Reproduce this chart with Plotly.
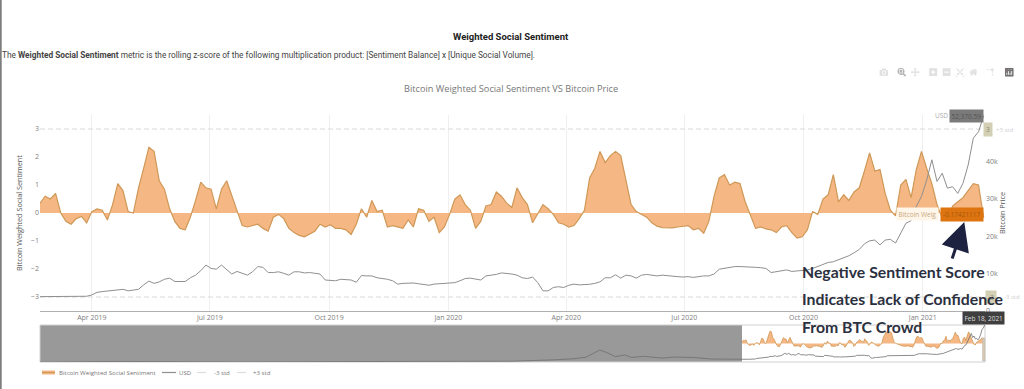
import pandas as pd
import plotly.graph_objects as go

start_date = "2019-02-20"
step_days = 4
sentiment = [0.35,0.6,0.5,0.7,0.0,-0.3,-0.4,-0.2,-0.12,-0.35,0.05,0.15,0.1,-0.25,0.3,1.05,0.8,0.05,0.0,0.9,
 1.6,2.35,2.2,1.15,0.85,0.15,-0.3,-0.55,-0.6,-0.15,0.45,1.1,0.9,0.85,0.15,0.85,1.15,0.6,0.1,-0.45,
 -0.5,-0.45,-0.4,-0.55,-0.65,-0.15,-0.05,-0.2,-0.55,-0.7,-0.8,-0.85,-0.75,-0.65,-0.4,-0.5,-0.42,-0.55,-0.55,-0.6,
 -0.77,-0.4,0.15,-0.15,0.45,0.05,0.1,-0.5,-0.45,-0.5,-0.55,-0.25,-0.5,0.15,0.1,-0.3,-0.15,-0.7,-0.5,-0.05,
 0.5,0.65,0.3,0.1,-0.55,-0.3,0.25,0.3,0.75,0.6,0.35,0.2,0.9,0.55,0.3,-0.35,0.0,0.3,0.15,-0.05,
 -0.35,-0.4,-0.5,-0.45,-0.2,0.1,1.25,1.6,2.2,1.8,2.05,2.2,2.05,1.2,0.3,0.05,-0.05,-0.15,-0.35,-0.47,
 -0.52,-0.52,-0.53,-0.5,-0.47,-0.45,-0.6,-0.55,-0.72,-0.3,0.6,1.25,1.37,1.0,1.1,1.05,0.4,-0.1,-0.55,-0.5,
 -0.57,-0.6,-0.7,-0.5,-0.45,-0.7,-0.9,-0.85,-0.6,0.05,-0.05,0.5,0.65,1.37,0.4,0.65,0.45,0.75,0.9,1.5,
 2.15,1.5,1.55,0.7,0.1,-0.1,1.0,1.2,0.55,1.55,2.2,1.6,1.05,0.3,-0.18,-0.25,0.25,0.4,0.55,0.8,
 1.05,1.0,-0.17]
usd_k = [3.85,3.85,3.8,3.8,3.8,3.85,3.9,3.9,3.95,3.95,4.3,5.0,5.2,5.3,5.5,5.6,5.8,5.4,5.7,5.8,
 7.0,8.0,7.4,7.8,8.5,8.8,7.9,7.9,7.9,8.9,9.6,10.8,12.3,11.4,11.2,12.3,11.2,9.9,10.6,10.1,
 9.6,10.5,11.9,11.7,10.3,10.3,10.5,10.1,9.6,10.5,10.5,10.2,10.3,10.1,9.9,8.3,8.2,8.1,8.5,8.3,
 8.3,7.7,9.5,9.4,9.4,8.9,8.8,8.5,8.1,7.2,7.4,7.5,7.5,7.3,7.15,6.9,7.2,7.3,7.3,7.4,
 7.6,8.1,8.7,8.8,8.6,8.3,9.4,9.5,9.8,10.2,10.1,9.9,9.6,8.9,8.7,9.1,7.6,5.4,5.4,6.3,
 6.5,6.3,6.9,7.2,7.0,7.0,7.15,7.4,7.8,8.9,8.9,9.7,8.8,9.6,9.4,8.8,9.6,9.8,9.6,9.4,
 9.6,9.5,9.5,9.2,9.1,9.2,9.0,9.2,9.4,9.4,9.9,11.2,11.5,11.7,11.9,11.9,11.9,11.7,11.7,11.6,
 11.4,10.3,10.6,10.9,11.0,10.6,10.7,11.0,11.0,11.4,11.9,12.3,13.0,13.2,13.7,14.3,14.8,15.6,16.5,18.0,
 18.8,19.0,17.7,19.0,19.2,18.2,20.8,23.5,24.2,28.0,30.7,35.0,40.5,34.7,36.9,32.9,33.3,31.5,34.2,39.1,
 46.3,48.0,52.37]
history_dates = ["2013-05-16","2014-01-01","2015-01-01","2016-01-01","2016-12-01","2017-04-01","2017-08-01",
 "2017-10-01","2017-11-10","2017-12-20","2018-01-10","2018-02-05","2018-03-05","2018-03-25","2018-05-01",
 "2018-06-25","2018-08-01","2018-10-01","2018-11-20","2019-01-01"]
history_usd_k = [0.12,0.8,0.3,0.4,0.8,1.1,3.0,4.5,7.0,17.0,13.5,7.5,10.0,6.5,8.0,5.5,7.0,6.3,4.2,3.7]
legend_names = ["Bitcoin Weighted Social Sentiment", "USD", "-3 std", "+3 std"]

dates = pd.date_range(start_date, periods=len(sentiment), freq=f"{step_days}D")
usd = [v * 1000 for v in usd_k]
W, H = 1024, 389
FILL, EDGE, GREY = "#f5b783", "#cf9857", "#8f8f8f"
px = lambda x: x / W
py = lambda y: 1 - y / H

fig = go.Figure()
common = dict(x=dates, showlegend=False, hoverinfo="skip")
fig.add_trace(go.Scatter(y=sentiment, fill="tozeroy", fillcolor=FILL, mode="lines",
                         line=dict(color=EDGE, width=1.2), name=legend_names[0], **common))
fig.add_trace(go.Scatter(y=usd, yaxis="y2", mode="lines", line=dict(color=GREY, width=1),
                         name=legend_names[1], **common))
for lvl, nm in ((-3, legend_names[2]), (3, legend_names[3])):
    fig.add_trace(go.Scatter(y=[lvl] * len(dates), mode="lines", name=nm,
                             line=dict(color="#d8d8d8", width=1, dash="5px,3px"), **common))
# range-overview strip
fig.add_trace(go.Scatter(x=dates, y=sentiment, xaxis="x2", yaxis="y3", fill="tozeroy", fillcolor=FILL,
                         mode="lines", line=dict(color=EDGE, width=0.8), showlegend=False, hoverinfo="skip"))
fig.add_trace(go.Scatter(x=list(pd.to_datetime(history_dates)) + list(dates),
                         y=[v * 1000 for v in history_usd_k] + usd, xaxis="x2", yaxis="y4", mode="lines",
                         line=dict(color="#6f6f6f", width=0.8), showlegend=False, hoverinfo="skip"))

tick = dict(size=7, color="#808080", family="Open Sans")
shapes = [
    dict(type="rect", xref="x2", yref="y3 domain", x0=history_dates[0], x1=start_date, y0=0, y1=1,
         fillcolor="#999999", line_width=0, layer="below"),
    dict(type="rect", xref="x2 domain", yref="y3 domain", x0=0, x1=1, y0=0, y1=1,
         line=dict(color="#d0d0d0", width=1), layer="below"),
    dict(type="rect", xref="paper", yref="paper", x0=0, x1=px(1.7), y0=0, y1=1, fillcolor="#7d7d7d", line_width=0),
    dict(type="rect", xref="paper", yref="paper", x0=px(982.5), x1=px(985), y0=py(361), y1=py(338),
         fillcolor="#d8c8b0", line=dict(color="#b5b5b5", width=0.5)),
]
# hand-built legend keys
leg_x = [(42, 55, 57), (162, 176, 177), (197, 210, 212), (237, 250, 251)]
leg_col = [EDGE, GREY, "#dddddd", "#dddddd"]
ann = []
for (a, b, t), c, nm, i in zip(leg_x, leg_col, legend_names, range(4)):
    if i == 0:
        shapes.append(dict(type="rect", xref="paper", yref="paper", x0=px(a), x1=px(b), y0=py(374.5), y1=py(370.5),
                           fillcolor=FILL, line_width=0))
    shapes.append(dict(type="line", xref="paper", yref="paper", x0=px(a), x1=px(b), y0=py(372.5), y1=py(372.5),
                       line=dict(color=c, width=1.2, dash="solid" if i < 2 else "dash")))
    ann.append(dict(text=nm, x=px(t), y=py(372.5), xanchor="left", font=dict(size=6.1, color="#777777", family="Open Sans")))

def label(text, x, y, anchor="center", size=7, color="#777", family="Open Sans", **kw):
    d = dict(text=text, x=px(x), y=py(y), xanchor=anchor, font=dict(size=size, color=color, family=family))
    d.update(kw)
    ann.append(d)

label("<b>Weighted Social Sentiment</b>", 511, 36, size=9.5, color="#222222", family="Roboto")
label("The <b>Weighted Social Sentiment</b> metric is the rolling z-score of the following multiplication product: "
      "[Sentiment Balance] x [Unique Social Volume].", 0, 55, "left", size=8.3, color="#444444", family="Roboto")
label("Bitcoin Weighted Social Sentiment VS Bitcoin Price", 511, 88, size=9.2, color="#777777")
label("Bitcoin Weighted Social Sentiment", 19, 213, size=7.3, color="#555555", textangle=-90)
label("Bitcoin Price", 1002, 213, size=7.3, color="#555555", textangle=-90)
# read-outs
label("USD", 941, 115.5, size=6.5, color="#aaaaaa")
label("52,370.59", 966, 115.5, size=6.5, color="#555555", bgcolor="#7a7a7a", borderpad=1.5)
label("Bitcoin Weig", 917, 214, size=6.5, color="#c9a77c", bgcolor="#fff6ea", borderpad=1.5)
label("-0.17421117", 962, 214, size=6.5, color="#a55a10", bgcolor="#dd7410", borderpad=2)
label("Feb 18, 2021", 983, 318, size=6.5, color="#dddddd", bgcolor="#3f3f3f", borderpad=1.5)
label("3", 988, 129.5, size=6.5, color="#888866", bgcolor="#d3cfb4", borderpad=2)
label("+3 std", 1004, 129.5, size=6, color="#cfcfcf")
label("-3", 991, 297, size=6.5, color="#888866", bgcolor="#d3cfb4", borderpad=2)
label("-3 std", 1012, 297, size=6, color="#cfcfcf")
# commentary
for txt, y in (("Negative Sentiment Score", 271), ("Indicates Lack of Confidence", 298.5), ("From BTC Crowd", 326)):
    label(f"<b>{txt}</b>", 800, y, "left", size=15.8, color="#2b3040", family="Lato")
ann.append(dict(x=px(964.3), y=py(222), ax=-12.6, ay=38, axref="pixel", ayref="pixel", xref="paper",
                yref="paper", text="", showarrow=True, arrowhead=2, arrowsize=1.9, arrowwidth=3, arrowcolor="#1d2240"))
for a in ann:
    a.setdefault("showarrow", False)
    a.setdefault("xref", "paper")
    a.setdefault("yref", "paper")
    a.setdefault("yanchor", "middle")

fig.update_layout(
    template="none",
    width=W, height=H, autosize=False, margin=dict(l=0, r=0, t=0, b=0),
    paper_bgcolor="white", plot_bgcolor="white", showlegend=False, hovermode="closest",
    shapes=shapes, annotations=ann,
    xaxis=dict(domain=[px(40), px(985)], range=[start_date, "2021-02-18"], type="date", tick0="2019-01-01", dtick="M3",
               tickformat="%b %Y", tickfont=tick, showgrid=True, gridcolor="#efefef", gridwidth=1, zeroline=False,
               showline=True, linecolor="#b0b0b0", linewidth=1, anchor="y", ticks="", automargin=False),
    yaxis=dict(domain=[py(311), py(115)], range=[-3.5, 3.5], tickvals=[-3, -2, -1, 0, 1, 2, 3], tickfont=tick,
               showgrid=False, zeroline=False, showline=False, ticks="", tickformat="d", automargin=False),
    yaxis2=dict(domain=[py(311), py(115)], range=[0, 52500], overlaying="y", side="right", anchor="x", automargin=False,
                tickvals=[0, 10000, 20000, 30000, 40000], tickformat="~s", tickfont=tick, showgrid=False, zeroline=False, ticks=""),
    xaxis2=dict(domain=[px(40), px(985)], range=[history_dates[0], "2021-02-18"], type="date", anchor="y3", visible=False, automargin=False),
    yaxis3=dict(domain=[py(362), py(325)], range=[-3.5, 3.5], anchor="x2", visible=False, automargin=False),
    yaxis4=dict(domain=[py(362), py(325)], range=[0, 52500], overlaying="y3", anchor="x2", visible=False, automargin=False),
)
fig.write_html("out.html", config=dict(displayModeBar=True, modeBarButtonsToAdd=["toggleSpikelines", "hoverClosestCartesian", "hoverCompareCartesian"]),
               post_script="document.body.style.margin='0';var m=document.querySelector('.modebar');if(m){m.style.top='66px';m.style.right='8px';m.style.transform='scale(0.56)';m.style.transformOrigin='right top';m.style.opacity='0.55';}")
